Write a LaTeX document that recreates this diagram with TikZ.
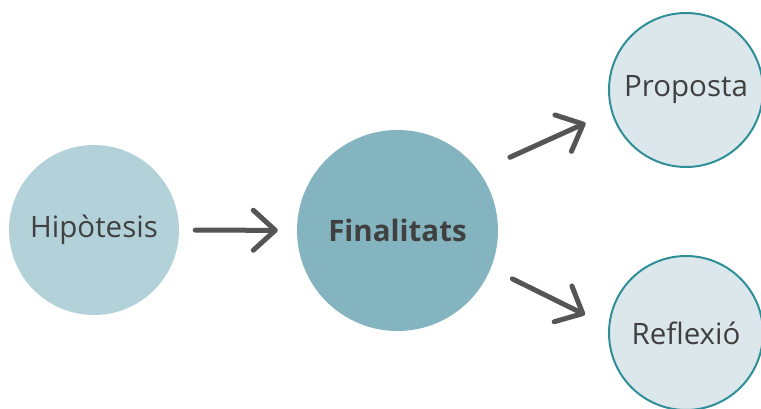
\documentclass[tikz,border=0pt]{standalone}
\usepackage{fontspec}
\setmainfont{Open Sans}
\usetikzlibrary{arrows.meta}
\definecolor{blauclar}{HTML}{B2D1D9}
\definecolor{blaufosc}{HTML}{84B4BF}
\definecolor{blaupal}{HTML}{DCE7EB}
\definecolor{verdos}{HTML}{2E8F99}
\definecolor{textgris}{HTML}{404040}
\definecolor{gris}{HTML}{555555}
\begin{document}
\begin{tikzpicture}[x=1pt,y=-1pt,
cercle/.style ={circle, inner sep=0pt, text=textgris, font=\fontsize{29.5}{32}\selectfont},
hipo/.style ={cercle, fill=blauclar, minimum size=170pt},
fina/.style ={cercle, fill=blaufosc, minimum size=201pt, font=\fontsize{29.5}{32}\selectfont\bfseries},
sortida/.style ={cercle, draw=verdos, line width=2pt, fill=blaupal, minimum size=154pt},
fletxa/.style ={line width=5pt, line cap=round, draw=gris, -{Straight Barb[length=22pt,width=40pt,round]}}
]
\useasboundingbox (0,0) rectangle (761,409);
\node[hipo] (H) at (94,230) {Hipòtesis};
\node[fina] (F) at (397.5,230.5) {Finalitats};
\node[sortida] (P) at (686,90) {Proposta};
\node[sortida] (R) at (686,333) {Reflexió};
\draw[fletxa, shorten <=16pt, shorten >=19pt] (H) -- (F);
\draw[fletxa, shorten <=34pt, shorten >=28pt] (F.36) -- (P.196);
\draw[fletxa, shorten <=24pt, shorten >=26pt] (F.-22) -- (R.175);
\end{tikzpicture}
\end{document}
